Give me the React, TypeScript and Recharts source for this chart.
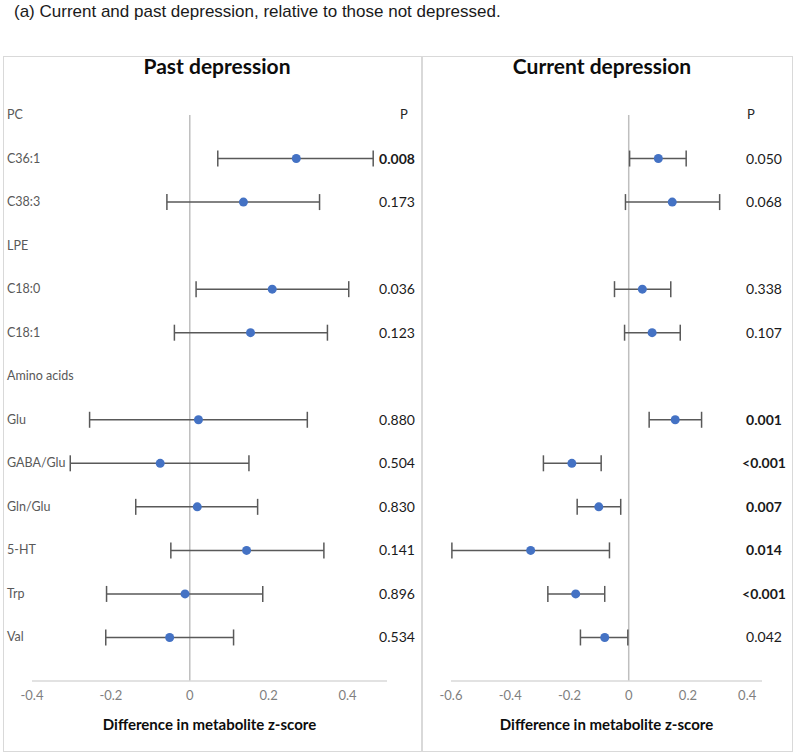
import React from "react"
import {
  ScatterChart,
  Scatter,
  XAxis,
  YAxis,
  ErrorBar,
  ReferenceLine,
} from "recharts"

// rows from top to bottom, group headers included
const rowLabels = [
  "PC", "C36:1", "C38:3", "LPE", "C18:0", "C18:1", "Amino acids",
  "Glu", "GABA/Glu", "Gln/Glu", "5-HT", "Trp", "Val",
]
const metabolites = ["C36:1", "C38:3", "C18:0", "C18:1", "Glu", "GABA/Glu", "Gln/Glu", "5-HT", "Trp", "Val"]

const pastEst = [0.27, 0.136, 0.209, 0.154, 0.022, -0.075, 0.019, 0.144, -0.012, -0.051]
const pastLow = [0.071, -0.058, 0.016, -0.039, -0.254, -0.303, -0.137, -0.048, -0.211, -0.213]
const pastHigh = [0.465, 0.329, 0.403, 0.349, 0.298, 0.15, 0.172, 0.34, 0.185, 0.111]
const pastP = ["0.008", "0.173", "0.036", "0.123", "0.880", "0.504", "0.830", "0.141", "0.896", "0.534"]
const pastBold = [true, false, false, false, false, false, false, false, false, false]

const currentEst = [0.1, 0.147, 0.046, 0.079, 0.157, -0.192, -0.101, -0.331, -0.179, -0.081]
const currentLow = [0.003, -0.011, -0.048, -0.014, 0.069, -0.288, -0.174, -0.597, -0.273, -0.163]
const currentHigh = [0.194, 0.307, 0.142, 0.174, 0.246, -0.093, -0.027, -0.065, -0.081, -0.003]
const currentP = ["0.050", "0.068", "0.338", "0.107", "0.001", "<0.001", "0.007", "0.014", "<0.001", "0.042"]
const currentBold = [false, false, false, false, true, true, true, true, true, false]

const pastTicks = [-0.4, -0.2, 0, 0.2, 0.4]
const currentTicks = [-0.6, -0.4, -0.2, 0, 0.2, 0.4]

const rowTicks = rowLabels.map((_, i) => i)
const FONT = "Lato, 'Open Sans', sans-serif"

interface PanelProps {
  est: number[]
  low: number[]
  high: number[]
  p: string[]
  bold: boolean[]
  domain: [number, number]
  ticks: number[]
  width: number
  leftW: number
  rightW: number
  showLabels: boolean
  pX: number
  headerX: number
}

function Panel({ est, low, high, p, bold, domain, ticks, width, leftW, rightW, showLabels, pX, headerX }: PanelProps) {
  const data = metabolites.map((m, i) => ({
    name: m,
    x: est[i],
    y: rowLabels.indexOf(m),
    err: [est[i] - low[i], high[i] - est[i]],
  }))

  // one tick draws the row label on the left and the P value column on the right
  const rowTick = (props: any) => {
    const row = props.payload.value
    const idx = metabolites.indexOf(rowLabels[row])
    return (
      <g>
        {showLabels && (
          <text x={3} y={props.y} dy={4} fontSize={12.5} fill="#595959" fontFamily={FONT} textAnchor="start">
            {rowLabels[row]}
          </text>
        )}
        {row === 0 && (
          <text x={headerX} y={props.y} dy={4} fontSize={13} fill="#262626" fontFamily={FONT} textAnchor="middle">
            P
          </text>
        )}
        {idx >= 0 && (
          <text
            x={pX}
            y={props.y}
            dy={5}
            fontSize={14}
            fontWeight={bold[idx] ? 700 : 400}
            fill="#1a1a1a"
            fontFamily={FONT}
            textAnchor="middle"
          >
            {p[idx]}
          </text>
        )}
      </g>
    )
  }

  return (
    <ScatterChart width={width} height={694} margin={{ top: 58, right: rightW, bottom: 0, left: 0 }}>
      <XAxis
        type="number"
        dataKey="x"
        domain={domain}
        ticks={ticks}
        allowDataOverflow
        height={70}
        axisLine={{ stroke: "#d9d9d9", strokeWidth: 1.5 }}
        tickLine={false}
        tickMargin={4}
        tick={{ fontSize: 13, fill: "#7f7f7f", fontFamily: FONT }}
        tickFormatter={(v: number) => (v === 0 ? "0" : v.toFixed(1))}
        label={{
          value: "Difference in metabolite z-score",
          position: "insideBottom",
          offset: 21,
          style: { fontSize: 15, fontWeight: 700, fill: "#0d0d0d", fontFamily: FONT },
        }}
      />
      <YAxis
        yAxisId="left"
        type="number"
        dataKey="y"
        domain={[0, 13]}
        ticks={rowTicks}
        reversed
        width={leftW}
        axisLine={false}
        tickLine={false}
        tick={rowTick}
        interval={0}
      />
      <ReferenceLine x={0} yAxisId="left" stroke="#bfbfbf" strokeWidth={1.5} />
      <Scatter
        yAxisId="left"
        data={data}
        isAnimationActive={false}
        shape={(s: any) => <circle cx={s.cx} cy={s.cy} r={4.5} fill="#4472C4" />}
      >
        <ErrorBar dataKey="err" direction="x" width={8} stroke="#595959" strokeWidth={1.5} isAnimationActive={false} />
      </Scatter>
    </ScatterChart>
  )
}

export default function App() {
  return (
    <div style={{ position: "absolute", left: 0, top: 0, width: 795, height: 754, background: "#fff", fontFamily: FONT }}>
      <div
        style={{
          position: "absolute",
          left: 14,
          top: 2,
          fontFamily: "'Liberation Sans', Arial, sans-serif",
          fontSize: 17,
          color: "#1a1a1a",
          whiteSpace: "nowrap",
        }}
      >
        (a) Current and past depression, relative to those not depressed.
      </div>
      <div
        style={{
          position: "absolute",
          left: 3,
          top: 56,
          width: 790,
          height: 696,
          border: "1.5px solid #d9d9d9",
          boxSizing: "border-box",
        }}
      />
      <div style={{ position: "absolute", left: 421, top: 56, width: 1.5, height: 696, background: "#d9d9d9" }} />
      <div
        style={{
          position: "absolute",
          left: 117,
          width: 200,
          top: 53,
          textAlign: "center",
          fontSize: 21,
          fontWeight: 700,
          color: "#0d0d0d",
        }}
      >
        Past depression
      </div>
      <div
        style={{
          position: "absolute",
          left: 482,
          width: 240,
          top: 53,
          textAlign: "center",
          fontSize: 21,
          fontWeight: 700,
          color: "#0d0d0d",
        }}
      >
        Current depression
      </div>
      <div style={{ position: "absolute", left: 4, top: 57 }}>
        <Panel
          est={pastEst}
          low={pastLow}
          high={pastHigh}
          p={pastP}
          bold={pastBold}
          domain={[-0.4, 0.5]}
          ticks={pastTicks}
          width={417}
          leftW={28}
          rightW={34}
          showLabels
          pX={393}
          headerX={400}
        />
      </div>
      <div style={{ position: "absolute", left: 422, top: 57 }}>
        <Panel
          est={currentEst}
          low={currentLow}
          high={currentHigh}
          p={currentP}
          bold={currentBold}
          domain={[-0.6, 0.45]}
          ticks={currentTicks}
          width={371}
          leftW={29}
          rightW={31}
          showLabels={false}
          pX={342}
          headerX={329}
        />
      </div>
    </div>
  )
}
